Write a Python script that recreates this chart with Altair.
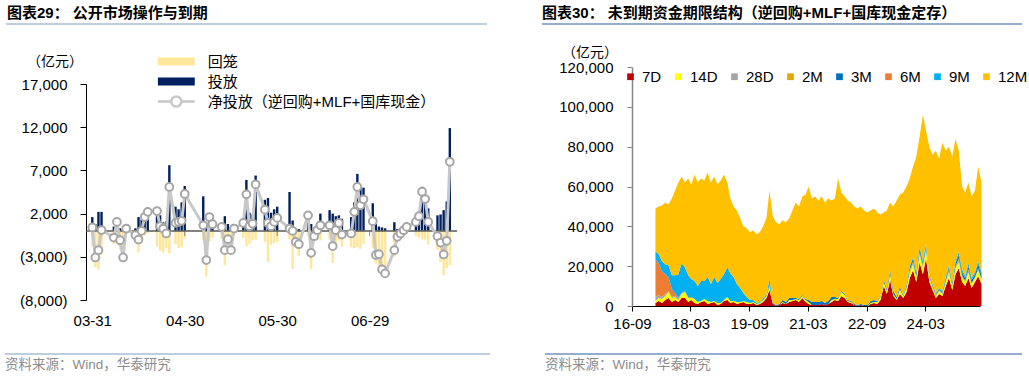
import altair as alt
import pandas as pd

FONT = "Liberation Sans, Noto Sans CJK SC, sans-serif"

# ---------------- left panel: open market operations (2025) ----------------
l_dates = [
    "03-31",
    "04-01", "04-02", "04-03", "04-07", "04-08", "04-09", "04-10", "04-11", "04-14", "04-15", "04-16",
    "04-17", "04-18", "04-21", "04-22", "04-23", "04-24", "04-25", "04-27", "04-28", "04-29", "04-30",
    "05-06", "05-07", "05-08", "05-09", "05-12", "05-13", "05-14", "05-15", "05-16", "05-19", "05-20",
    "05-21", "05-22", "05-23", "05-26", "05-27", "05-28", "05-29", "05-30",
    "06-03", "06-04", "06-05", "06-06", "06-09", "06-10", "06-11", "06-12", "06-13", "06-16", "06-17",
    "06-18", "06-19", "06-20", "06-23", "06-24", "06-25", "06-26", "06-27", "06-30",
    "07-01", "07-02", "07-03", "07-04", "07-07", "07-08", "07-09", "07-10", "07-11", "07-14", "07-15",
    "07-16", "07-17", "07-18", "07-21", "07-22", "07-23", "07-24", "07-25",
]
l_net = [
    400,
    -3080, -2230, 100, -770, 1040, -1080, -3080, 270, -500, -1000, 0,
    1600, 2200, 2300, 540, 270, -300, 5080, 930, 1050, 1160, 4270,
    650, -3380, 1600, 770, 460, -2230, -960, -2230, 270, 920, 4230,
    540, 850, 5380, 2460, 920, 540, 1040, 1500,
    270, 0, -1270, -1540, 1800, -2540, -620, 80, 650, 650, -1770,
    80, 920, -420, -300, 2200, 5080, 2960, 3650, 1120,
    -2800, -2700, -4460, -4920, -2230, -690, -300, 80, 460, 1040, 1700,
    4530, 3690, 1040, -620, -1350, -2730, -1150, 8000,
]
l_inject = [
    1600,
    800, 2200, 2200, 500, 1200, 300, 200, 300, 300, 1600, 1300,
    2000, 2100, 2300, 1800, 1000, 1100, 7600, 2800, 2500, 3300, 5200,
    4000, 600, 1600, 800, 400, 1700, 800, 400, 300, 1100, 5900,
    2100, 1900, 6400, 3600, 3800, 2100, 2500, 2800,
    4500, 1200, 300, 200, 2200, 800, 400, 400, 2000, 2400, 2000,
    1700, 1800, 1400, 1600, 3300, 6600, 5000, 5000, 3200,
    800, 500, 400, 300, 1000, 200, 200, 300, 300, 1500, 1700,
    5100, 3500, 2600, 1800, 1900, 2400, 3400, 11900,
]
l_mature = [
    1800,
    4200, 4500, 2800, 1500, 1000, 2200, 2800, 300, 800, 2500, 1300,
    500, 300, 1800, 2300, 2500, 2000, 2600, 1500, 2000, 1900, 900,
    1000, 5300, 1200, 800, 900, 4000, 1500, 2600, 600, 800, 1800,
    1500, 1100, 1000, 1300, 3600, 1600, 1400, 1300,
    1000, 4400, 1400, 2900, 600, 4400, 1200, 1000, 1100, 1000, 3700,
    1700, 1100, 1800, 1900, 2000, 1900, 2100, 1500, 2000,
    3800, 4000, 4800, 4500, 3000, 1000, 1000, 400, 400, 600, 800,
    1000, 1000, 1600, 2200, 3600, 5100, 4300, 4000,
]
l_tick_dates = ["03-31", "04-30", "05-30", "06-29"]
l_y_ticks = [-8000, -3000, 2000, 7000, 12000, 17000]
l_kinds = ["回笼", "投放"]
l_line_name = "净投放（逆回购+MLF+国库现金）"

# ---------------- right panel: maturity structure (monthly) ----------------
r_series = ["7D", "14D", "28D", "2M", "3M", "6M", "9M", "12M"]
r_colors = ["#C00000", "#FFFF00", "#A5A5A5", "#E2A700", "#0070C0", "#ED7D31", "#00B0F0", "#FFC000"]
r_first_month = "2017-03-08"
r_x_ticks = ["2016-09-01", "2018-03-01", "2019-09-01", "2021-03-01", "2022-09-01", "2024-03-01"]
r_y_ticks = [0, 20000, 40000, 60000, 80000, 100000, 120000]

# rows: 2017(Mar-Dec) | 2018 | 2019 | 2020 | 2021 | 2022 | 2023 | 2024 | 2025(Jan-Jul)
v_7d = [1500, 2500, 1500, 3000, 4000, 2000, 3000, 2000, 4000, 4000,
        2000, 3000, 1500, 1000, 2000, 2500, 1000, 1500, 2000, 500, 1000, 2500,
        3000, 1500, 2000, 1000, 1500, 2000, 1000, 1000, 1500, 500, 1000, 2000,
        4000, 8000, 1000, 0, 500, 1500, 1000, 2000, 2500, 3000, 2000, 4000,
        2000, 1000, 500, 500, 500, 1000, 500, 1000, 2000, 3000, 2500, 5000,
        4000, 2000, 1500, 500, 0, 500, 0, 0, 1000, 1500, 1000, 3000,
        10000, 6000, 13000, 5000, 3000, 6000, 4000, 7000, 14000, 18000, 12000, 22000,
        16000, 24000, 12000, 8000, 4000, 6000, 5000, 10000, 14000, 8000, 16000, 19000,
        12000, 10000, 14000, 9000, 12000, 15000, 11000]
v_14d = [1000, 1500, 2000, 2000, 3000, 2000, 1500, 1000, 2000, 3000,
         2000, 1000, 2000, 1000, 500, 1000, 1500, 500, 500, 1000, 500, 500,
         1500, 1000, 500, 1000, 500, 500, 1000, 500, 500, 500, 500, 1000,
         1000, 2000, 0, 0, 0, 500, 0, 1000, 500, 500, 1000, 1000,
         1000, 1000, 0, 0, 0, 0, 0, 0, 1000, 500, 1000, 2000,
         1500, 500, 500, 0, 0, 0, 0, 0, 500, 500, 1000, 1500,
         2000, 1500, 3000, 1000, 500, 2000, 1000, 2000, 3000, 3000, 2500, 4000,
         3000, 4000, 2000, 1500, 1000, 1500, 1000, 2000, 3000, 2000, 3000, 3000,
         2500, 2000, 3000, 2000, 2000, 3000, 2000]
v_28d = [2000, 1500, 1000, 1000, 500, 500, 500, 500, 500, 500,
         500, 500, 0, 0, 0, 0, 0, 0, 0, 0, 0, 0,
         0, 0, 0, 0, 0, 0, 0, 0, 0, 0, 0, 0,
         0, 0, 0, 0, 0, 0, 0, 0, 0, 0, 0, 0,
         0, 0, 0, 0, 0, 0, 0, 0, 0, 0, 0, 0,
         0, 0, 0, 0, 0, 0, 0, 0, 0, 0, 0, 0,
         0, 0, 500, 0, 0, 500, 0, 500, 1000, 1000, 500, 1000,
         1000, 1000, 500, 500, 500, 500, 500, 500, 1000, 500, 1000, 1000,
         1000, 500, 1000, 500, 500, 1000, 500]
v_2m = [0, 0, 0, 0, 0, 0, 0, 0, 0, 0,
        0, 0, 0, 0, 0, 0, 0, 0, 0, 0, 0, 0,
        0, 0, 0, 0, 0, 0, 0, 0, 0, 0, 0, 0,
        0, 0, 0, 0, 0, 0, 0, 0, 0, 0, 0, 0,
        0, 0, 0, 0, 0, 0, 0, 0, 0, 0, 0, 0,
        0, 0, 0, 0, 0, 0, 0, 0, 0, 0, 0, 0,
        0, 0, 0, 0, 0, 0, 0, 0, 0, 500, 0, 0,
        1000, 0, 0, 0, 0, 0, 0, 0, 500, 0, 0, 1000,
        0, 0, 500, 0, 0, 0, 0]
v_3m = [0, 0, 0, 0, 0, 0, 0, 0, 0, 0,
        0, 0, 0, 0, 0, 0, 0, 0, 0, 0, 0, 0,
        0, 0, 0, 0, 0, 0, 0, 0, 0, 0, 0, 500,
        500, 500, 500, 500, 500, 1000, 1000, 1000, 1000, 500, 500, 500,
        500, 1000, 1500, 1500, 1500, 1500, 1000, 1500, 1500, 1000, 500, 500,
        500, 500, 500, 500, 500, 500, 500, 500, 1000, 1000, 500, 500,
        1000, 1000, 1500, 1500, 1000, 1000, 500, 1000, 1500, 1500, 1500, 1500,
        1000, 1000, 500, 500, 500, 500, 500, 1000, 1000, 1000, 1500, 1500,
        1500, 1500, 1500, 1500, 1500, 2000, 2000]
v_6m = [19000, 16000, 13000, 10000, 7000, 4000, 1500, 500, 0, 0,
        0, 0, 0, 0, 0, 0, 0, 0, 0, 0, 0, 0,
        0, 0, 0, 0, 0, 0, 0, 0, 0, 0, 0, 0,
        0, 0, 0, 0, 0, 0, 0, 0, 0, 0, 0, 0,
        0, 0, 0, 0, 0, 0, 0, 0, 0, 0, 0, 0,
        0, 0, 0, 0, 0, 0, 0, 0, 0, 0, 0, 0,
        0, 0, 0, 0, 0, 0, 0, 0, 0, 0, 0, 0,
        0, 0, 0, 0, 0, 0, 0, 0, 0, 0, 0, 0,
        0, 0, 0, 0, 0, 0, 0]
v_9m = [4000, 4500, 5000, 5000, 6000, 7000, 9000, 12000, 15000, 12000,
        11000, 9000, 9000, 8000, 10000, 9000, 12000, 9000, 12000, 10000, 12000, 13000,
        15000, 14000, 12000, 9000, 7000, 4000, 2500, 1500, 1000, 500, 500, 500,
        0, 3000, 0, 0, 0, 0, 0, 0, 0, 0, 0, 0,
        0, 0, 0, 0, 0, 0, 0, 0, 0, 0, 0, 0,
        0, 0, 0, 0, 0, 0, 0, 0, 0, 0, 0, 0,
        0, 0, 0, 0, 0, 0, 0, 0, 500, 500, 500, 1000,
        1000, 1500, 500, 500, 500, 500, 500, 1000, 1000, 500, 1000, 1500,
        1500, 1000, 1500, 1000, 1000, 1500, 1500]
v_12m = [21500, 24000, 28000, 31000, 30500, 38500, 42500, 46000, 43500, 42500,
         48500, 47500, 53500, 52000, 51500, 50500, 52500, 51000, 50500, 49500, 49500, 50000,
         42500, 37500, 35500, 37000, 35000, 33500, 34500, 34000, 35000, 34500, 35000, 36000,
         38500, 44500, 43500, 41500, 40000, 40000, 40000, 40000, 44000, 48000, 46500, 49500,
         52500, 57000, 52000, 53000, 51000, 52500, 50500, 51500, 48500, 49500, 60000, 49500,
         49000, 50000, 49500, 49000, 48500, 49000, 47500, 46500, 45500, 46000, 44500, 41000,
         34000, 39500, 34000, 42500, 48500, 46500, 51500, 49500, 44000, 45500, 58000, 55500,
         73000, 56500, 64500, 65000, 71500, 65000, 74500, 63500, 59500, 63000, 61500, 51000,
         41500, 42000, 40500, 41000, 41000, 47500, 45000]

# ---------------- data frames ----------------
l_dt = [pd.Timestamp("2025-" + d) for d in l_dates]
bars_df = pd.DataFrame({
    "date": l_dt + l_dt,
    "value": l_inject + [-m for m in l_mature],
    "kind": ["投放"] * len(l_dt) + ["回笼"] * len(l_dt),
})
net_df = pd.DataFrame({"date": l_dt, "net": l_net, "series": [l_line_name] * len(l_dt)})
ticks_df = pd.DataFrame({"date": [pd.Timestamp("2025-" + d) for d in l_tick_dates]})

series_vals = [v_7d, v_14d, v_28d, v_2m, v_3m, v_6m, v_9m, v_12m]
months = pd.date_range(r_first_month, periods=len(v_12m), freq="MS") + pd.Timedelta(days=7)
rows = []
for i, (name, vals) in enumerate(zip(r_series, series_vals)):
    for m, v in zip(months, vals):
        rows.append({"date": m, "series": name, "value": v, "idx": i})
area_df = pd.DataFrame(rows)


def dt(s):
    t = pd.Timestamp(s)
    return alt.DateTime(year=t.year, month=t.month, date=t.day, hours=t.hour)


# ---------------- left panel ----------------
xl_scale = alt.Scale(domain=[dt("2025-03-30 14:00"), dt("2025-07-25 17:00")], range=[0, 371])
yl_scale = alt.Scale(domain=[-8000, 17000], range=[233, 17], nice=False, zero=False)
xl_axis = alt.Axis(orient="bottom", values=[dt("2025-" + d) for d in l_tick_dates], format="%m-%d",
                   domain=False, ticks=False, tickSize=0, labelPadding=7, labelFontSize=15,
                   labelFont=FONT, labelColor="#000000", grid=False, labelFlush=False, labelOverlap=False)
yl_axis = alt.Axis(orient="left", values=l_y_ticks, grid=False,
                   labelExpr="datum.value < 0 ? '(' + format(-datum.value, ',') + ')' : format(datum.value, ',')",
                   domainColor="#000000", tickColor="#000000", tickSize=6, labelPadding=13,
                   labelFontSize=15, labelFont=FONT, labelColor="#000000")


def XL():
    return alt.X("date:T", scale=xl_scale, axis=xl_axis, title=None)


bars = alt.Chart(bars_df).mark_bar(size=2.4).encode(
    x=XL(),
    y=alt.Y("value:Q", scale=yl_scale, axis=yl_axis, title=None),
    fill=alt.Fill("kind:N", scale=alt.Scale(domain=l_kinds, range=["#FFE699", "#002060"]),
                  legend=alt.Legend(title=None, orient="none", legendX=69, legendY=-13,
                                    direction="vertical", symbolType="M-1,-0.87H7V0.87H-1Z",
                                    symbolSize=85, symbolStrokeWidth=0, labelOffset=37.8,
                                    labelFontSize=15, labelFont=FONT, labelColor="#000000",
                                    rowPadding=4)),
)
zero = alt.Chart(pd.DataFrame({"z": [0]})).mark_rule(color="#595959", strokeWidth=1.5).encode(
    y=alt.datum(0), x=alt.value(0), x2=alt.value(371))
zticks = alt.Chart(ticks_df).mark_tick(orient="vertical", size=5, thickness=1, yOffset=2.5,
                                       color="#595959").encode(x=XL(), y=alt.datum(0))
line_path = ("M-1,0H1.91M4.09,0H7M1.91,0A1.09,1.09,0,1,1,4.09,0"
             "A1.09,1.09,0,1,1,1.91,0Z")
line = alt.Chart(net_df).mark_line(strokeWidth=3).encode(
    x=XL(),
    y=alt.Y("net:Q", scale=yl_scale, axis=yl_axis, title=None),
    stroke=alt.Stroke("series:N", scale=alt.Scale(domain=[l_line_name], range=["#C8C8C8"]),
                      legend=alt.Legend(title=None, orient="none", legendX=69, legendY=27,
                                        symbolType=line_path, symbolSize=85, symbolStrokeWidth=2.5,
                                        symbolFillColor="white", labelOffset=37.8, labelLimit=400,
                                        labelFontSize=15, labelFont=FONT, labelColor="#000000")),
)
points = alt.Chart(net_df).mark_circle(size=60, fill="white", stroke="#A6A6A6", strokeWidth=2,
                                       opacity=1).encode(
    x=XL(), y=alt.Y("net:Q", scale=yl_scale, axis=yl_axis, title=None))

left = alt.layer(bars, zero, zticks, line, points)

# ---------------- right panel ----------------
xr_scale = alt.Scale(domain=[dt("2016-09-01"), dt("2025-07-25")], range=[546, 894])
yr_scale = alt.Scale(domain=[0, 120000], range=[239, 0], nice=False)
area = alt.Chart(area_df).mark_area(strokeWidth=0).encode(
    x=alt.X("date:T", scale=xr_scale, title=None,
            axis=alt.Axis(orient="bottom", values=[dt(d) for d in r_x_ticks], format="%y-%m",
                          domainColor="#000000", tickColor="#000000", tickSize=5, labelPadding=5,
                          labelFontSize=15, labelFont=FONT, labelColor="#000000", grid=False,
                          labelFlush=False, labelOverlap=False)),
    y=alt.Y("value:Q", stack="zero", scale=yr_scale, title=None,
            axis=alt.Axis(orient="left", offset=-546, values=r_y_ticks,
                          labelExpr="format(datum.value, ',')",
                          domainColor="#868686", domainWidth=1.5, tickColor="#868686",
                          tickSize=5, labelPadding=14, labelFontSize=15, labelFont=FONT,
                          labelColor="#000000", grid=False)),
    color=alt.Color("series:N", scale=alt.Scale(domain=r_series, range=r_colors), sort=r_series,
                    legend=alt.Legend(title=None, orient="none", legendX=537, legendY=2,
                                      direction="horizontal", columns=8, symbolType="square",
                                      symbolSize=45, symbolStrokeWidth=0, labelOffset=4,
                                      columnPadding=9, labelFontSize=15, labelFont=FONT,
                                      labelColor="#000000")),
    order=alt.Order("idx:Q", sort="ascending"),
)
right = alt.layer(area)


# ---------------- decorations ----------------
def label(text, x, y, size, color="#000000", weight="normal", align="left"):
    return alt.Chart(pd.DataFrame({"t": [text]})).mark_text(
        align=align, baseline="middle", fontSize=size, font=FONT, fontWeight=weight, color=color
    ).encode(x=alt.value(x), y=alt.value(y), text="t:N")


def hline(x1, x2, y, color, w=1.5):
    return alt.Chart(pd.DataFrame({"a": [0]})).mark_rule(color=color, strokeWidth=w).encode(
        x=alt.value(x1), x2=alt.value(x2), y=alt.value(y))


decor = [
    label("图表29：  公开市场操作与到期", -79, -54, 15, weight="bold"),
    label("图表30：  未到期资金期限结构（逆回购+MLF+国库现金定存）", 456, -54, 15, weight="bold"),
    hline(-80, 401, -43, "#A9BED3"),
    hline(456, 936, -43, "#7393BE"),
    label("（亿元）", -31, -5, 14, align="center"),
    label("（亿元）", 504, -14, 14, align="center"),
    hline(-81, 404, 287, "#A9BED3"),
    hline(459, 936, 287, "#7393BE"),
    label("资料来源：Wind，华泰研究", -81, 298, 13.5, color="#8C8C8C"),
    label("资料来源：Wind，华泰研究", 459, 298, 13.5, color="#8C8C8C"),
]

chart = alt.layer(left, right, *decor).resolve_scale(
    x="independent", y="independent"
).properties(
    width=894, height=239,
    padding={"left": 86, "top": 67, "right": 49, "bottom": 72},
    autosize=alt.AutoSizeParams(type="none"),
    background="white",
).configure_view(strokeWidth=0)

chart.save("out.html", embed_options={"renderer": "svg", "actions": False})
